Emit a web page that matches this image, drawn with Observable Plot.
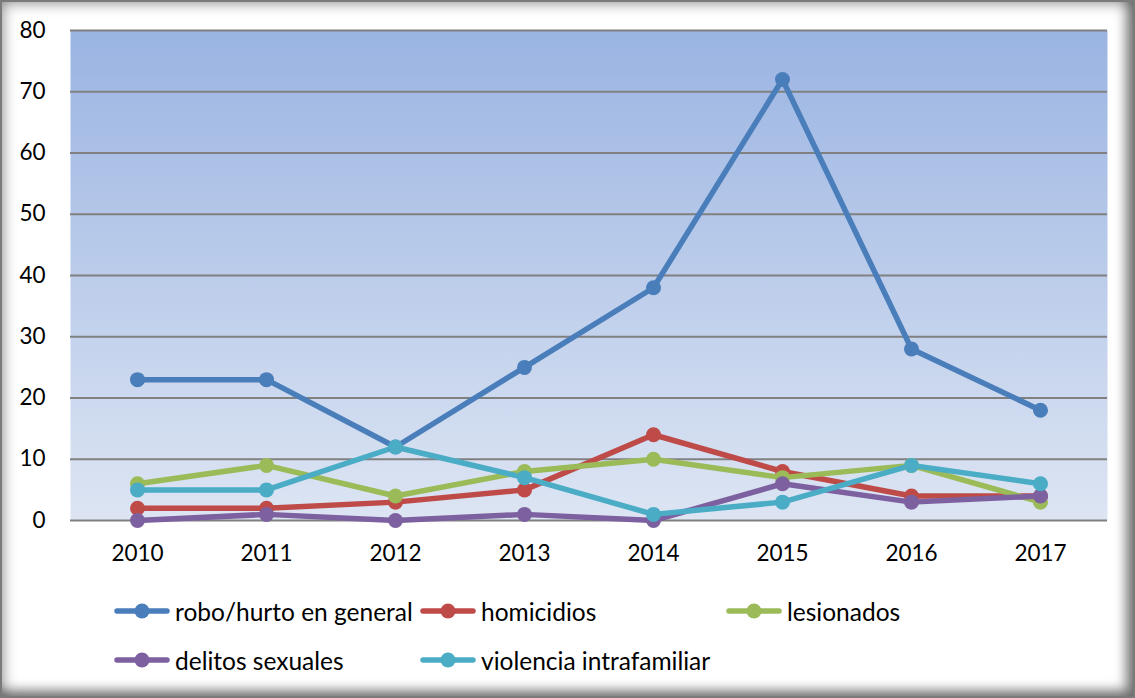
<!DOCTYPE html>
<html>
<head>
<meta charset="utf-8">
<script src="https://cdn.jsdelivr.net/npm/d3@7"></script>
<script src="https://cdn.jsdelivr.net/npm/@observablehq/plot@0.6"></script>
<style>
  html, body { margin: 0; padding: 0; background: #fff; }
  #frame {
    position: relative; width: 1135px; height: 698px; overflow: hidden; background: #fff;
    font-family: Lato, "Open Sans", sans-serif;
    box-shadow: inset 0 0 0 2px #7a7a7a, inset 0 0 14px 3px rgba(0,0,0,0.45), inset -10px -8px 12px rgba(0,0,0,0.35);
  }
  #chart { position: absolute; left: 0; top: 0; }
  .leg { position: absolute; display: flex; align-items: center; font-size: 24.5px; color: #000; white-space: nowrap; }
  .leg svg { margin-right: 5px; }
</style>
</head>
<body>
<div id="frame"><div id="chart"></div></div>
<script>
const years = ["2010","2011","2012","2013","2014","2015","2016","2017"];
const seriesNames = ["robo/hurto en general","homicidios","lesionados","delitos sexuales","violencia intrafamiliar"];
const robo = [23, 23, 12, 25, 38, 72, 28, 18];
const homicidios = [2, 2, 3, 5, 14, 8, 4, 4];
const lesionados = [6, 9, 4, 8, 10, 7, 9, 3];
const delitos = [0, 1, 0, 1, 0, 6, 3, 4];
const violencia = [5, 5, 12, 7, 1, 3, 9, 6];
const colors = ["#4a7ebb", "#be4b48", "#9bbb59", "#7d60a0", "#4bacc6"];
const yTicks = [0, 10, 20, 30, 40, 50, 60, 70, 80];

const allSeries = [robo, homicidios, lesionados, delitos, violencia];
const data = [];
allSeries.forEach((vals, si) => vals.forEach((v, i) => data.push({year: years[i], value: v, series: seriesNames[si]})));

const chart = Plot.plot({
  width: 1135, height: 570,
  marginLeft: 70, marginRight: 28, marginTop: 30, marginBottom: 50,
  style: {fontFamily: "Lato, 'Open Sans', sans-serif", fontSize: "22.5px", background: "transparent", color: "#000"},
  x: {type: "point", domain: years, padding: 0.5, label: null, tickSize: 0, tickPadding: 25},
  y: {domain: [0, 80], ticks: yTicks, label: null, tickSize: 0, tickPadding: 25},
  color: {domain: seriesNames, range: colors},
  marks: [
    Plot.frame({fill: "url(#bgGrad)", stroke: null}),
    Plot.gridY(yTicks, {stroke: "#808080", strokeOpacity: 1, strokeWidth: 2}),
    Plot.line(data, {x: "year", y: "value", z: "series", stroke: "series", strokeWidth: 5.5}),
    Plot.dot(data, {x: "year", y: "value", fill: "series", r: 7.5, stroke: null})
  ]
});
const defs = d3.select(chart).insert("defs", ":first-child");
const g = defs.append("linearGradient").attr("id", "bgGrad").attr("x1", 0).attr("y1", 0).attr("x2", 0).attr("y2", 1);
g.append("stop").attr("offset", "0%").attr("stop-color", "#9ab4e2");
g.append("stop").attr("offset", "100%").attr("stop-color", "#dde5f3");
document.getElementById("chart").appendChild(chart);

// legend
const legPos = [[114, 611], [420, 611], [726, 611], [114, 660], [420, 660]];
const frame = document.getElementById("frame");
seriesNames.forEach((name, i) => {
  const d = document.createElement("div");
  d.className = "leg";
  d.style.left = legPos[i][0] + "px";
  d.style.top = (legPos[i][1] - 17) + "px";
  d.style.height = "34px";
  d.innerHTML = `<svg width="56" height="18"><line x1="3" y1="9" x2="53" y2="9" stroke="${colors[i]}" stroke-width="5.5" stroke-linecap="round"/><circle cx="28" cy="9" r="7.5" fill="${colors[i]}"/></svg><span>${name}</span>`;
  frame.appendChild(d);
});
</script>
</body>
</html>
